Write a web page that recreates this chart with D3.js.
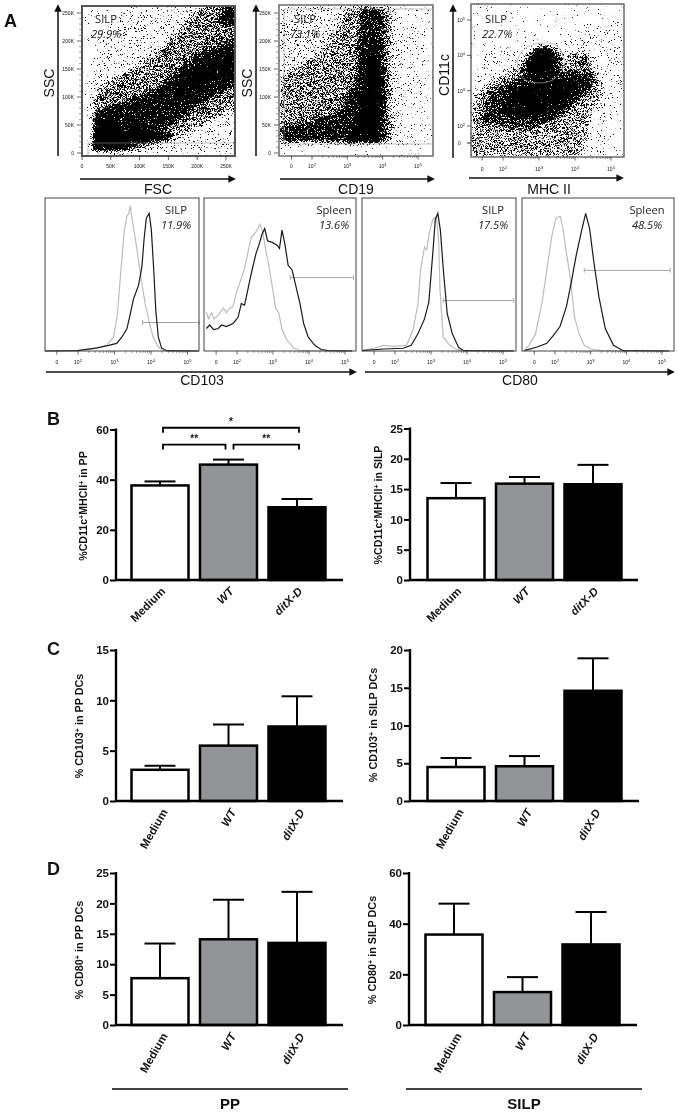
<!DOCTYPE html>
<html><head><meta charset="utf-8">
<script src="https://cdnjs.cloudflare.com/ajax/libs/d3/7.8.5/d3.min.js"></script>
<style>html,body{margin:0;padding:0;background:#fff}svg{display:block;filter:blur(0.35px)}text{font-family:"Liberation Sans",Arial,sans-serif;fill:#111}.note{font-family:"Open Sans","Noto Sans",sans-serif;font-size:11.2px;fill:#222}</style>
</head><body><svg id="c" width="678" height="1113"></svg>
<script>
// ---------- bar chart data ----------
const categories = ["Medium","WT","ditX-D"];
const barFills = ["#ffffff","#929497","#000000"];
const ppDcMean = [37.7,46,29];        const ppDcErr = [39.3,48,32.3];
const silpDcMean = [13.5,15.9,15.8];  const silpDcErr = [16,17,19];
const ppCd103Mean = [3.1,5.5,7.4];    const ppCd103Err = [3.5,7.6,10.4];
const silpCd103Mean = [4.5,4.6,14.6]; const silpCd103Err = [5.7,5.95,18.9];
const ppCd80Mean = [7.7,14.1,13.5];   const ppCd80Err = [13.4,20.6,21.9];
const silpCd80Mean = [35.7,13,31.8];  const silpCd80Err = [47.9,18.9,44.6];
const brackets = [[0,2,60.7,"*"],[0,1,54,"**"],[1,2,54,"**"]];
// ---------- histogram data: [log10 fluorescence, % of max] ----------
const cd103SilpIso = [[1.1,0],[2,.4],[2.52,1.8],[2.79,3.7],[2.97,9],[3.08,24],[3.17,51],[3.26,77],[3.34,88],[3.39,90],[3.43,95],[3.47,88],[3.54,78],[3.63,64],[3.72,49],[3.84,31],[3.95,19],[4.06,9],[4.2,2.6],[4.34,.4],[4.52,0],[5.3,0]];
const cd103SilpAb = [[1.1,0],[2,.2],[2.52,2],[2.84,3.7],[3.06,5],[3.2,9],[3.34,14.5],[3.43,24],[3.52,34],[3.66,43],[3.75,55],[3.81,73],[3.87,86.6],[3.95,90],[4.01,79],[4.08,51],[4.13,27],[4.2,9],[4.29,2],[4.43,.2],[5.3,0]];
const cd103SplIso = [[1.15,25.6],[1.21,21],[1.3,25],[1.36,21],[1.48,23.4],[1.62,28],[1.71,25],[1.8,28],[1.89,29],[1.98,38],[2.07,44],[2.21,54],[2.3,64],[2.39,74],[2.53,78],[2.64,83],[2.71,78],[2.8,66],[2.89,55],[2.98,42],[3.07,28],[3.16,25],[3.25,14],[3.39,7],[3.57,2],[3.75,.2],[5.2,0]];
const cd103SplAb = [[1.15,14.7],[1.24,17],[1.35,14],[1.48,14.7],[1.57,17],[1.71,16],[1.89,18],[2.03,22],[2.12,31],[2.21,30],[2.3,40],[2.39,50],[2.53,64],[2.62,70],[2.69,76],[2.77,80],[2.85,72],[2.98,71],[3.12,69],[3.18,67],[3.25,79],[3.33,70],[3.42,56],[3.53,53],[3.65,41],[3.75,31],[3.85,18],[3.98,9],[4.16,3.7],[4.34,1],[4.53,.2],[5.2,0]];
const cd80SilpIso = [[1.09,.4],[1.41,1.8],[1.68,3.7],[1.95,3],[2.32,3.7],[2.5,13.5],[2.64,31],[2.71,53],[2.82,68],[2.88,66],[2.95,77],[3.05,86],[3.15,88],[3.21,73],[3.25,40],[3.34,9],[3.5,4.4],[3.68,1.3],[3.86,.2],[5.3,0]];
const cd80SilpAb = [[1.09,.2],[1.68,1.3],[2.23,1.8],[2.45,3.7],[2.64,11.4],[2.82,21],[2.94,32],[3.05,64],[3.12,86],[3.19,90],[3.26,79],[3.35,51],[3.45,24.5],[3.59,11.4],[3.77,2.2],[3.91,.2],[5.3,0]];
const cd80SplIso = [[1.14,.2],[1.27,3.7],[1.45,11],[1.64,32],[1.77,53],[1.91,75],[2.03,87],[2.15,88],[2.23,79],[2.32,64],[2.43,48],[2.55,22],[2.68,11],[2.82,3.7],[3,1.3],[3.32,.2],[5.2,0]];
const cd80SplAb = [[1.14,.2],[1.5,2.6],[1.77,5],[1.95,10],[2.14,16],[2.32,29],[2.45,44],[2.59,62],[2.73,77],[2.86,90],[2.97,80],[3.09,58],[3.23,35.5],[3.41,14.7],[3.64,3.7],[3.91,.2],[5.2,0]];
const histGates = [[3.77,5.32,18.6],[3.48,5.24,48],[3.34,5.3,33],[2.82,5.23,52.7]];
const histNotes = [["SILP","11.9%"],["Spleen","13.6%"],["SILP","17.5%"],["Spleen","48.5%"]];
// ---------- flow cytometry density regions: [stipple level, polygon] ----------
const fscSscRegions = [
 [.13,[[16,2],[270,2],[270,272],[60,272],[25,190],[16,110]]],
 [.36,[[18,4],[100,4],[180,35],[270,85],[270,272],[215,272],[150,200],[90,150],[40,125],[20,100]]],
 [.6,[[18,4],[80,4],[120,30],[200,85],[270,125],[270,200],[200,175],[140,120],[80,90],[40,80],[22,70]]],
 [1,[[20,4],[62,4],[78,25],[62,55],[25,60]]],
 [.7,[[70,18],[150,22],[160,35],[100,42],[75,42]]],
 [.5,[[160,100],[215,120],[270,150],[270,185],[220,170],[170,135]]],
 [.6,[[235,230],[270,225],[270,272],[250,272]]]
];
const cd19SscRegions = [
 [.08,[[1.07,15],[4.9,15],[5.3,60],[5.3,262],[1.07,262]]],
 [.1,[[1.07,16],[4.5,16],[4.55,110],[4.4,262],[1.07,262]]],
 [.3,[[1.07,18],[4.25,18],[4.25,262],[3.0,262],[2.4,190],[1.07,130]]],
 [.5,[[1.07,20],[4.05,20],[4.1,120],[3.95,255],[3.4,262],[3.25,130],[2.7,70],[1.07,42]]],
 [1,[[3.0,18],[3.9,22],[3.95,130],[3.8,210],[3.55,160],[3.4,80]]]
];
const mhcCd11cRegions = [
 [.11,[[1.11,1.13],[4.8,1.13],[5.36,3],[5.36,5.1],[4.9,4.9],[3.5,4.4],[1.5,4.1],[1.11,3]]],
 [.3,[[1.11,1.13],[4.2,1.13],[4.4,2.2],[4.8,3.0],[4.5,3.6],[4.2,4.2],[3.6,3.9],[2.4,3.7],[1.6,3.2],[1.11,2.8]]],
 [.45,[[1.4,2.1],[2.7,1.9],[3.5,2.2],[4.4,3.0],[4.6,3.5],[3.9,3.55],[3.2,3.6],[2.5,3.4],[1.6,3.0]]],
 [.7,[[2.0,2.35],[3.1,2.25],[3.9,2.8],[4.4,3.2],[3.9,3.35],[3,3.25],[2.2,3.0]]],
 [.55,[[2.5,3.6],[2.7,4.1],[3.1,4.3],[3.5,4.2],[3.65,3.85],[3.4,3.4],[3,3.3],[2.65,3.35]]],
 [1,[[2.7,3.75],[2.85,4.1],[3.1,4.2],[3.35,4.1],[3.45,3.85],[3.3,3.6],[3,3.5],[2.8,3.55]]],
 [.3,[[4.05,3.7],[4.3,4.1],[4.5,3.9],[4.4,3.6]]]
];
const mhcGate = [[2.42,3.91],[2.65,4.23],[3.11,4.35],[3.48,4.28],[3.69,3.91],[3.67,3.63],[3.39,3.31],[3.02,3.22],[2.6,3.31],[2.42,3.63]];
const linearTicks = [0,50,100,150,200,250];
const decadeTicks = [2,3,4,5];

const svg = d3.select("#c");
const defs = svg.append("defs");
const f = defs.append("filter").attr("id","stipple").attr("filterUnits","userSpaceOnUse")
  .attr("x",0).attr("y",0).attr("width",678).attr("height",200).attr("color-interpolation-filters","sRGB");
f.append("feGaussianBlur").attr("in","SourceAlpha").attr("stdDeviation",2.8).attr("result","d");
f.append("feTurbulence").attr("type","fractalNoise").attr("baseFrequency",1.7).attr("numOctaves",2).attr("seed",11).attr("result","t");
f.append("feColorMatrix").attr("in","t").attr("type","matrix").attr("values","0 0 0 0 0  0 0 0 0 0  0 0 0 0 0  0 0 0 1 0").attr("result","n");
f.append("feComposite").attr("in","d").attr("in2","n").attr("operator","arithmetic")
  .attr("k1",0).attr("k2",.58).attr("k3",1).attr("k4",-.72).attr("result","s");
const ct = f.append("feComponentTransfer").attr("in","s");
ct.append("feFuncA").attr("type","linear").attr("slope",14).attr("intercept",0);

const mk = defs.append("marker").attr("id","arr").attr("viewBox","0 0 8 8").attr("refX",6).attr("refY",4)
  .attr("markerWidth",5).attr("markerHeight",5).attr("markerUnits","strokeWidth").attr("orient","auto");
mk.append("path").attr("d","M0,0L8,4L0,8Z").attr("fill","#111");

function arrow(x1,y1,x2,y2){svg.append("line").attr("x1",x1).attr("y1",y1).attr("x2",x2).attr("y2",y2)
  .attr("stroke","#111").attr("stroke-width",1.5).attr("marker-end","url(#arr)");}
function label(t,x,y,size,rot){const e=svg.append("text").text(t).attr("text-anchor","middle").attr("font-size",size)
  .attr("transform",`translate(${x},${y})`+(rot?` rotate(${rot})`:""));return e;}
function note(t,x,y,it){svg.append("text").attr("class","note").text(t).attr("x",x).attr("y",y).attr("text-anchor","middle").attr("font-style",it?"italic":"normal");}
function tenPow(sel,d,anchor){
  sel.attr("font-size",5).attr("text-anchor",anchor||"middle").attr("fill","#333");
  sel.append("tspan").text("10");
  sel.append("tspan").text(d).attr("dy",-2).attr("font-size",4);
}
function minorDecades(){const o=[];for(const d of [2,3,4]){for(let m=2;m<10;m++)o.push(d+Math.log10(m));}return o;}
function xDecadeAxis(g,x,yb,labelY){
  const all=minorDecades();
  g.selectAll(".mn").data(all).join("line").attr("x1",x).attr("x2",x).attr("y1",yb).attr("y2",yb+2).attr("stroke","#333").attr("stroke-width",.5);
  g.selectAll(".mj").data([...decadeTicks,0]).join("line").attr("x1",d=>d?x(d):x(1.42)).attr("x2",d=>d?x(d):x(1.42)).attr("y1",yb).attr("y2",yb+3.5).attr("stroke","#222").attr("stroke-width",.7);
  decadeTicks.forEach(d=>{tenPow(g.append("text").attr("x",x(d)).attr("y",labelY),d);});
  g.append("text").text("0").attr("x",x(1.42)).attr("y",labelY).attr("font-size",5).attr("text-anchor","middle").attr("fill","#333");
}
function scatter(o){
  const g=svg.append("g");
  const cid="clip"+o.id;
  defs.append("clipPath").attr("id",cid).append("rect").attr("x",o.l).attr("y",o.t).attr("width",o.r-o.l).attr("height",o.b-o.t);
  const x=o.x,y=o.y;
  const line=d3.line().x(d=>x(d[0])).y(d=>y(d[1]));
  const cl=g.append("g").attr("clip-path",`url(#${cid})`);
  const st=cl.append("g").attr("filter","url(#stipple)");
  st.selectAll("path").data(o.regions).join("path").attr("d",d=>line(d[1])+"Z").attr("fill","#000").attr("fill-opacity",d=>d[0]);
  if(o.gate) cl.append("path").attr("d",d3.line().x(d=>x(d[0])).y(d=>y(d[1])).curve(d3.curveCardinalClosed)(o.gate)).attr("fill","none").attr("stroke","#aaa").attr("stroke-width",.7);
  if(o.box) cl.append("rect").attr("x",o.box[0]).attr("y",o.box[1]).attr("width",o.box[2]).attr("height",o.box[3]).attr("fill","none").attr("stroke","#999").attr("stroke-width",.6);
  g.append("rect").attr("x",o.l).attr("y",o.t).attr("width",o.r-o.l).attr("height",o.b-o.t).attr("fill","none").attr("stroke","#555").attr("stroke-width",o.sw||1.3);
  return {g,x,y};
}
function linYAxis(g,y,xl){
  linearTicks.forEach(v=>{
    g.append("line").attr("x1",xl-4).attr("x2",xl).attr("y1",y(v)).attr("y2",y(v)).attr("stroke","#222").attr("stroke-width",.7);
    g.append("text").text(v?v+"K":"0").attr("x",xl-7).attr("y",y(v)+1.8).attr("font-size",5).attr("text-anchor","end").attr("fill","#333");
    if(v<250)for(let k=1;k<5;k++)g.append("line").attr("x1",xl-2).attr("x2",xl).attr("y1",y(v+k*10)).attr("y2",y(v+k*10)).attr("stroke","#444").attr("stroke-width",.5);
  });
}
// FSC/SSC
const sscY=d3.scaleLinear().domain([0,250]).range([153,13]);
const fscX=d3.scaleLinear().domain([0,250]).range([82,226]);
let p=scatter({id:1,l:82,r:235,t:6,b:156,x:fscX,y:sscY,regions:fscSscRegions,sw:2,box:[88,143,146,40]});
linYAxis(p.g,sscY,81);
linearTicks.forEach(v=>{
  p.g.append("line").attr("x1",fscX(v)).attr("x2",fscX(v)).attr("y1",156).attr("y2",160).attr("stroke","#222").attr("stroke-width",.7);
  p.g.append("text").text(v?v+"K":"0").attr("x",fscX(v)).attr("y",168).attr("font-size",5).attr("text-anchor","middle").attr("fill","#333");
});
// CD19/SSC
const cd19X=d3.scaleLinear().domain([2,5]).range([312,418]);
p=scatter({id:2,l:279,r:433,t:5,b:156,x:cd19X,y:sscY,regions:cd19SscRegions,box:[284,9,160,135]});
linYAxis(p.g,sscY,278);
xDecadeAxis(p.g,cd19X,156,168);
// MHC/CD11c
const mhcX=d3.scaleLinear().domain([2,5]).range([503,611]);
const cd11Y=d3.scaleLinear().domain([2,5]).range([126,20]);
p=scatter({id:3,l:471,r:624,t:4,b:157,x:mhcX,y:cd11Y,regions:mhcCd11cRegions,gate:mhcGate});
xDecadeAxis(p.g,mhcX,157,171);
decadeTicks.forEach(d=>{
  p.g.append("line").attr("x1",467).attr("x2",471).attr("y1",cd11Y(d)).attr("y2",cd11Y(d)).attr("stroke","#222").attr("stroke-width",.7);
  tenPow(p.g.append("text").attr("x",465).attr("y",cd11Y(d)+2),d,"end");
});
p.g.append("text").text("0").attr("x",458).attr("y",145).attr("font-size",5).attr("fill","#333");
p.g.append("line").attr("x1",467).attr("x2",471).attr("y1",143).attr("y2",143).attr("stroke","#222");

arrow(58,156,58,6);arrow(80,179,234,179);
arrow(256,156,256,6);arrow(280,179,433,179);
arrow(453,158,453,6);arrow(469,178,622,178);
label("SSC",54,83,14,-90);label("FSC",158,194,14);
label("SSC",252,83,14,-90);label("CD19",356,194,14);
label("CD11c",449,75,14,-90);label("MHC II",549,194,14);
note("SILP",106,23);note("29.9%",106,38,true);
note("SILP",305,23);note("73.1%",305,38,true);
note("SILP",496,23);note("22.7%",497,38,true);

// histograms
const histY=d3.scaleLinear().domain([0,100]).range([351,198]);
const histPanels=[
 {l:45,r:199,x:d3.scaleLinear().domain([2,5]).range([78,187.5]),iso:cd103SilpIso,ab:cd103SilpAb,nx:176},
 {l:204,r:356,x:d3.scaleLinear().domain([2,5]).range([237,345]),iso:cd103SplIso,ab:cd103SplAb,nx:334},
 {l:362,r:516,x:d3.scaleLinear().domain([2,5]).range([395,503]),iso:cd80SilpIso,ab:cd80SilpAb,nx:493},
 {l:522,r:674,x:d3.scaleLinear().domain([2,5]).range([555,662]),iso:cd80SplIso,ab:cd80SplAb,nx:647}
];
histPanels.forEach((h,i)=>{
  const g=svg.append("g");
  const line=d3.line().x(d=>h.x(d[0])).y(d=>histY(d[1]));
  g.append("path").attr("d",line(h.iso)).attr("fill","none").attr("stroke","#bdbdbd").attr("stroke-width",1.2);
  const [a,b,lv]=histGates[i];
  g.append("line").attr("x1",h.x(a)).attr("x2",h.x(b)).attr("y1",histY(lv)).attr("y2",histY(lv)).attr("stroke","#999").attr("stroke-width",.9);
  [a,b].forEach(v=>g.append("line").attr("x1",h.x(v)).attr("x2",h.x(v)).attr("y1",histY(lv)-2.5).attr("y2",histY(lv)+2.5).attr("stroke","#999").attr("stroke-width",.8));
  g.append("path").attr("d",line(h.ab)).attr("fill","none").attr("stroke","#1a1a1a").attr("stroke-width",1.2);
  g.append("rect").attr("x",h.l).attr("y",198).attr("width",h.r-h.l).attr("height",153).attr("fill","none").attr("stroke","#444").attr("stroke-width",1);
  xDecadeAxis(g,h.x,351,364);
  note(histNotes[i][0],h.nx,214);note(histNotes[i][1],h.nx,229,true);
});
arrow(46,372,355,372);arrow(365,372,673,372);
label("CD103",202,385,14);label("CD80",520,385,14);

// bar charts
function bars(o){
  const g=svg.append("g");
  const x=d3.scaleBand().domain(categories).range([o.x0,o.x0+194]).paddingInner(.168);
  const y=d3.scaleLinear().domain([0,o.max]).range([o.y0,o.yt]);
  const gy=g.append("g").attr("transform",`translate(${o.ax},0)`).call(d3.axisLeft(y).tickValues(o.ticks).tickSize(6).tickPadding(1).tickSizeOuter(0));
  gy.select(".domain").attr("stroke","#000").attr("stroke-width",2.4).attr("d",`M0,${o.yt-1}V${o.y0}`);
  gy.selectAll(".tick line").attr("stroke","#000").attr("stroke-width",2);
  gy.selectAll(".tick text").attr("font-size",11.5).attr("font-weight","bold").attr("font-family","Liberation Sans").attr("fill","#111");
  const w=x.bandwidth();
  o.err.forEach((e,i)=>{
    const c=x(categories[i])+w/2;
    g.append("line").attr("x1",c).attr("x2",c).attr("y1",y(o.mean[i])).attr("y2",y(e)).attr("stroke","#000").attr("stroke-width",2);
    g.append("line").attr("x1",c-15.5).attr("x2",c+15.5).attr("y1",y(e)).attr("y2",y(e)).attr("stroke","#000").attr("stroke-width",2);
  });
  g.selectAll("rect").data(o.mean).join("rect")
    .attr("x",(d,i)=>x(categories[i])).attr("width",w).attr("y",d=>y(d)).attr("height",d=>y(0)-y(d))
    .attr("fill",(d,i)=>barFills[i]).attr("stroke","#000").attr("stroke-width",2.5);
  const gx=g.append("g").attr("transform",`translate(0,${o.y0})`).call(d3.axisBottom(x).tickSize(0).tickPadding(0));
  gx.select(".domain").attr("stroke","#000").attr("stroke-width",2.4).attr("d",`M${o.ax},0H${o.ax+o.axw}`);
  gx.selectAll(".tick text").attr("font-size",11.5).attr("font-weight","bold").attr("font-family","Liberation Sans").attr("fill","#222")
    .attr("text-anchor","end").attr("font-style",d=>d==="Medium"?"normal":"italic")
    .attr("transform",`translate(${o.lx},${o.ly}) rotate(${o.rot})`).attr("y",0).attr("dy",0);
  const t=g.append("text").attr("text-anchor","middle").attr("font-size",o.ts).attr("font-weight","bold").attr("fill","#222")
    .attr("transform",`translate(${o.tx},${o.ty}) rotate(-90)`);
  let afterSup=false;
  o.title.forEach(([s,sup])=>{const ts=t.append("tspan").text(s);
    if(sup){ts.attr("dy",-3).attr("font-size",7);afterSup=true;}
    else if(afterSup){ts.attr("dy",3);afterSup=false;}});
  return {g,x,y};
}
const bB=bars({x0:131.5,ax:116,axw:227,y0:580,yt:429.5,max:60,ticks:[0,20,40,60],mean:ppDcMean,err:ppDcErr,ts:10.6,
  lx:6,ly:12,rot:-45,tx:87,ty:506,title:[["%CD11c"],["+",1],["MHCII"],["+",1],[" in PP"]]});
bars({x0:427.5,ax:410,axw:228,y0:580,yt:428.5,max:25,ticks:[0,5,10,15,20,25],mean:silpDcMean,err:silpDcErr,ts:10.6,
  lx:6,ly:12,rot:-45,tx:382,ty:505,title:[["%CD11c"],["+",1],["MHCII"],["+",1],[" in SILP"]]});
bars({x0:131.5,ax:116,axw:227,y0:801,yt:650,max:15,ticks:[0,5,10,15],mean:ppCd103Mean,err:ppCd103Err,ts:10.8,
  lx:8,ly:11,rot:-60,tx:83,ty:726,title:[["% CD103"],["+",1],[" in PP DCs"]]});
bars({x0:427.5,ax:410,axw:229,y0:801,yt:650,max:20,ticks:[0,5,10,15,20],mean:silpCd103Mean,err:silpCd103Err,ts:10.8,
  lx:8,ly:11,rot:-60,tx:377,ty:725,title:[["% CD103"],["+",1],[" in SILP DCs"]]});
bars({x0:131.5,ax:116,axw:227,y0:1025,yt:873,max:25,ticks:[0,5,10,15,20,25],mean:ppCd80Mean,err:ppCd80Err,ts:10.8,
  lx:8,ly:11,rot:-60,tx:83,ty:950,title:[["% CD80"],["+",1],[" in PP DCs"]]});
bars({x0:425.5,ax:409,axw:228,y0:1025,yt:873,max:60,ticks:[0,20,40,60],mean:silpCd80Mean,err:silpCd80Err,ts:10.8,
  lx:8,ly:11,rot:-60,tx:376,ty:950,title:[["% CD80"],["+",1],[" in SILP DCs"]]});
// significance brackets
brackets.forEach(([a,b,lv,s])=>{
  const c=i=>bB.x(categories[i])+bB.x.bandwidth()/2;
  const x1=c(a)+(a===0?3:5), x2=c(b)+(b===2?2:-3), yy=bB.y(lv);
  bB.g.append("path").attr("d",`M${x1},${yy+5}V${yy}H${x2}V${yy+5}`).attr("fill","none").attr("stroke","#000").attr("stroke-width",1.8);
  bB.g.append("text").text(s).attr("x",(x1+x2)/2).attr("y",yy-3).attr("text-anchor","middle").attr("font-size",10).attr("font-weight","bold");
});
// group rules
svg.append("line").attr("x1",112).attr("x2",348).attr("y1",1089).attr("y2",1089).attr("stroke","#000").attr("stroke-width",1.3);
svg.append("line").attr("x1",406).attr("x2",642).attr("y1",1089).attr("y2",1089).attr("stroke","#000").attr("stroke-width",1.3);
label("PP",230,1109,15).attr("font-weight","bold");
label("SILP",524,1109,15).attr("font-weight","bold");
[["A",4,27],["B",47,425],["C",47,655],["D",47,875]].forEach(([t,x,y])=>svg.append("text").text(t).attr("x",x).attr("y",y).attr("font-size",18).attr("font-weight","bold"));
</script></body></html>
